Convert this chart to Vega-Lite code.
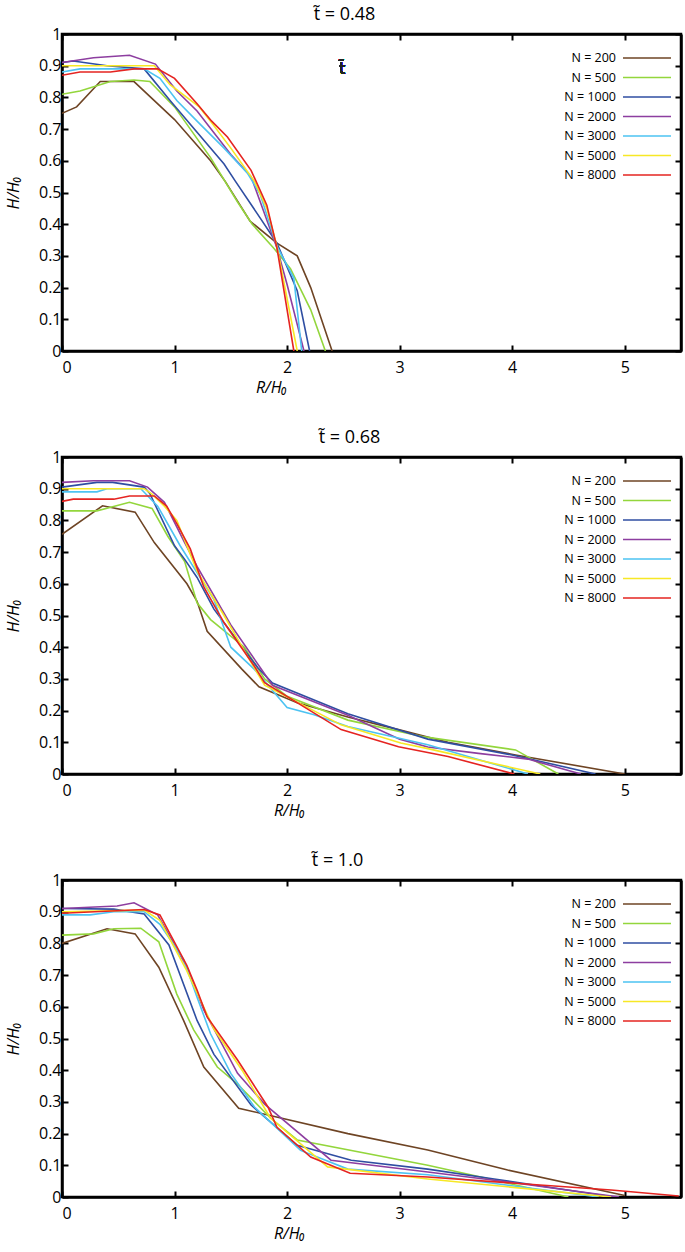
{
  "$schema": "https://vega.github.io/schema/vega-lite/v6.json",
  "padding": {"left": 4, "top": 4, "right": 0, "bottom": 0},
  "background": "white",
  "config": {
    "font": "Open Sans",
    "view": {"stroke": "black", "strokeWidth": 2.5},
    "axis": {
      "grid": false, "domainColor": "black", "domainWidth": 2.5,
      "tickColor": "black", "tickWidth": 2, "tickSize": -6,
      "labelFont": "Open Sans", "labelFontSize": 16, "labelColor": "black",
      "titleFont": "Open Sans", "titleFontSize": 16, "titleFontStyle": "italic", "titleFontWeight": "normal", "titleColor": "black"
    },
    "title": {"font": "Open Sans", "fontSize": 18, "fontWeight": "normal", "color": "black", "offset": 2},
    "legend": {
      "orient": "none", "legendX": 578, "legendY": 17, "title": null, "symbolType": "M-4,0H4", "symbolSize": 144,
      "symbolStrokeWidth": 1.6, "labelAlign": "right", "labelOffset": -38,
      "labelFont": "Open Sans", "labelFontSize": 12.5, "labelColor": "black", "rowPadding": 5.5
    }
  },
  "datasets": {
    "d": [
      {"p":"a","N":"N = 200","r":0,"h":0.75},{"p":"a","N":"N = 200","r":0.13,"h":0.77},{"p":"a","N":"N = 200","r":0.34,"h":0.85},{"p":"a","N":"N = 200","r":0.64,"h":0.85},{"p":"a","N":"N = 200","r":1.0,"h":0.73},{"p":"a","N":"N = 200","r":1.32,"h":0.6},{"p":"a","N":"N = 200","r":1.45,"h":0.535},{"p":"a","N":"N = 200","r":1.67,"h":0.41},{"p":"a","N":"N = 200","r":1.91,"h":0.34},{"p":"a","N":"N = 200","r":2.09,"h":0.3},{"p":"a","N":"N = 200","r":2.21,"h":0.2},{"p":"a","N":"N = 200","r":2.4,"h":0},
      {"p":"a","N":"N = 500","r":0,"h":0.81},{"p":"a","N":"N = 500","r":0.16,"h":0.82},{"p":"a","N":"N = 500","r":0.43,"h":0.85},{"p":"a","N":"N = 500","r":0.64,"h":0.855},{"p":"a","N":"N = 500","r":0.78,"h":0.85},{"p":"a","N":"N = 500","r":1.0,"h":0.77},{"p":"a","N":"N = 500","r":1.32,"h":0.61},{"p":"a","N":"N = 500","r":1.56,"h":0.47},{"p":"a","N":"N = 500","r":1.69,"h":0.4},{"p":"a","N":"N = 500","r":1.88,"h":0.325},{"p":"a","N":"N = 500","r":2.03,"h":0.26},{"p":"a","N":"N = 500","r":2.21,"h":0.13},{"p":"a","N":"N = 500","r":2.34,"h":0},
      {"p":"a","N":"N = 1000","r":0,"h":0.91},{"p":"a","N":"N = 1000","r":0.1,"h":0.915},{"p":"a","N":"N = 1000","r":0.4,"h":0.9},{"p":"a","N":"N = 1000","r":0.73,"h":0.89},{"p":"a","N":"N = 1000","r":0.96,"h":0.79},{"p":"a","N":"N = 1000","r":1.44,"h":0.59},{"p":"a","N":"N = 1000","r":1.54,"h":0.536},{"p":"a","N":"N = 1000","r":1.76,"h":0.42},{"p":"a","N":"N = 1000","r":1.91,"h":0.34},{"p":"a","N":"N = 1000","r":2.09,"h":0.19},{"p":"a","N":"N = 1000","r":2.2,"h":0},
      {"p":"a","N":"N = 2000","r":0,"h":0.91},{"p":"a","N":"N = 2000","r":0.28,"h":0.925},{"p":"a","N":"N = 2000","r":0.6,"h":0.933},{"p":"a","N":"N = 2000","r":0.83,"h":0.905},{"p":"a","N":"N = 2000","r":1.02,"h":0.82},{"p":"a","N":"N = 2000","r":1.2,"h":0.757},{"p":"a","N":"N = 2000","r":1.5,"h":0.62},{"p":"a","N":"N = 2000","r":1.68,"h":0.55},{"p":"a","N":"N = 2000","r":1.91,"h":0.325},{"p":"a","N":"N = 2000","r":2.0,"h":0.21},{"p":"a","N":"N = 2000","r":2.15,"h":0},
      {"p":"a","N":"N = 3000","r":0,"h":0.88},{"p":"a","N":"N = 3000","r":0.16,"h":0.89},{"p":"a","N":"N = 3000","r":0.73,"h":0.89},{"p":"a","N":"N = 3000","r":0.87,"h":0.86},{"p":"a","N":"N = 3000","r":1.02,"h":0.79},{"p":"a","N":"N = 3000","r":1.2,"h":0.725},{"p":"a","N":"N = 3000","r":1.44,"h":0.64},{"p":"a","N":"N = 3000","r":1.65,"h":0.56},{"p":"a","N":"N = 3000","r":1.76,"h":0.495},{"p":"a","N":"N = 3000","r":1.91,"h":0.33},{"p":"a","N":"N = 3000","r":2.06,"h":0.23},{"p":"a","N":"N = 3000","r":2.13,"h":0},
      {"p":"a","N":"N = 5000","r":0,"h":0.9},{"p":"a","N":"N = 5000","r":0.82,"h":0.9},{"p":"a","N":"N = 5000","r":0.96,"h":0.84},{"p":"a","N":"N = 5000","r":1.22,"h":0.77},{"p":"a","N":"N = 5000","r":1.33,"h":0.72},{"p":"a","N":"N = 5000","r":1.5,"h":0.64},{"p":"a","N":"N = 5000","r":1.71,"h":0.535},{"p":"a","N":"N = 5000","r":1.82,"h":0.45},{"p":"a","N":"N = 5000","r":1.91,"h":0.33},{"p":"a","N":"N = 5000","r":2.09,"h":0},
      {"p":"a","N":"N = 8000","r":0,"h":0.87},{"p":"a","N":"N = 8000","r":0.16,"h":0.88},{"p":"a","N":"N = 8000","r":0.43,"h":0.88},{"p":"a","N":"N = 8000","r":0.64,"h":0.89},{"p":"a","N":"N = 8000","r":0.85,"h":0.89},{"p":"a","N":"N = 8000","r":1.0,"h":0.86},{"p":"a","N":"N = 8000","r":1.2,"h":0.78},{"p":"a","N":"N = 8000","r":1.33,"h":0.725},{"p":"a","N":"N = 8000","r":1.47,"h":0.675},{"p":"a","N":"N = 8000","r":1.68,"h":0.57},{"p":"a","N":"N = 8000","r":1.82,"h":0.46},{"p":"a","N":"N = 8000","r":1.91,"h":0.325},{"p":"a","N":"N = 8000","r":2.06,"h":0},

      {"p":"b","N":"N = 200","r":0,"h":0.756},{"p":"b","N":"N = 200","r":0.36,"h":0.846},{"p":"b","N":"N = 200","r":0.65,"h":0.826},{"p":"b","N":"N = 200","r":0.82,"h":0.73},{"p":"b","N":"N = 200","r":1.11,"h":0.6},{"p":"b","N":"N = 200","r":1.2,"h":0.545},{"p":"b","N":"N = 200","r":1.29,"h":0.45},{"p":"b","N":"N = 200","r":1.6,"h":0.33},{"p":"b","N":"N = 200","r":1.75,"h":0.275},{"p":"b","N":"N = 200","r":1.85,"h":0.26},{"p":"b","N":"N = 200","r":2.09,"h":0.225},{"p":"b","N":"N = 200","r":2.54,"h":0.18},{"p":"b","N":"N = 200","r":2.99,"h":0.14},{"p":"b","N":"N = 200","r":3.43,"h":0.1},{"p":"b","N":"N = 200","r":4.03,"h":0.06},{"p":"b","N":"N = 200","r":5.0,"h":0},
      {"p":"b","N":"N = 500","r":0,"h":0.83},{"p":"b","N":"N = 500","r":0.31,"h":0.83},{"p":"b","N":"N = 500","r":0.6,"h":0.857},{"p":"b","N":"N = 500","r":0.8,"h":0.838},{"p":"b","N":"N = 500","r":0.94,"h":0.75},{"p":"b","N":"N = 500","r":1.09,"h":0.67},{"p":"b","N":"N = 500","r":1.2,"h":0.54},{"p":"b","N":"N = 500","r":1.32,"h":0.487},{"p":"b","N":"N = 500","r":1.62,"h":0.4},{"p":"b","N":"N = 500","r":1.8,"h":0.3},{"p":"b","N":"N = 500","r":2.0,"h":0.245},{"p":"b","N":"N = 500","r":2.54,"h":0.17},{"p":"b","N":"N = 500","r":3.22,"h":0.117},{"p":"b","N":"N = 500","r":4.03,"h":0.076},{"p":"b","N":"N = 500","r":4.14,"h":0.054},{"p":"b","N":"N = 500","r":4.41,"h":0},
      {"p":"b","N":"N = 1000","r":0,"h":0.905},{"p":"b","N":"N = 1000","r":0.31,"h":0.92},{"p":"b","N":"N = 1000","r":0.45,"h":0.92},{"p":"b","N":"N = 1000","r":0.73,"h":0.905},{"p":"b","N":"N = 1000","r":0.78,"h":0.885},{"p":"b","N":"N = 1000","r":1.0,"h":0.72},{"p":"b","N":"N = 1000","r":1.09,"h":0.677},{"p":"b","N":"N = 1000","r":1.2,"h":0.62},{"p":"b","N":"N = 1000","r":1.35,"h":0.52},{"p":"b","N":"N = 1000","r":1.74,"h":0.335},{"p":"b","N":"N = 1000","r":1.87,"h":0.287},{"p":"b","N":"N = 1000","r":2.54,"h":0.19},{"p":"b","N":"N = 1000","r":3.25,"h":0.11},{"p":"b","N":"N = 1000","r":4.0,"h":0.06},{"p":"b","N":"N = 1000","r":4.74,"h":0},
      {"p":"b","N":"N = 2000","r":0,"h":0.92},{"p":"b","N":"N = 2000","r":0.28,"h":0.925},{"p":"b","N":"N = 2000","r":0.6,"h":0.925},{"p":"b","N":"N = 2000","r":0.76,"h":0.905},{"p":"b","N":"N = 2000","r":0.91,"h":0.857},{"p":"b","N":"N = 2000","r":1.09,"h":0.73},{"p":"b","N":"N = 2000","r":1.2,"h":0.655},{"p":"b","N":"N = 2000","r":1.5,"h":0.47},{"p":"b","N":"N = 2000","r":1.87,"h":0.28},{"p":"b","N":"N = 2000","r":2.54,"h":0.185},{"p":"b","N":"N = 2000","r":3.0,"h":0.11},{"p":"b","N":"N = 2000","r":3.25,"h":0.085},{"p":"b","N":"N = 2000","r":3.7,"h":0.065},{"p":"b","N":"N = 2000","r":4.14,"h":0.047},{"p":"b","N":"N = 2000","r":4.61,"h":0},
      {"p":"b","N":"N = 3000","r":0,"h":0.89},{"p":"b","N":"N = 3000","r":0.31,"h":0.89},{"p":"b","N":"N = 3000","r":0.4,"h":0.9},{"p":"b","N":"N = 3000","r":0.7,"h":0.9},{"p":"b","N":"N = 3000","r":0.85,"h":0.845},{"p":"b","N":"N = 3000","r":1.05,"h":0.72},{"p":"b","N":"N = 3000","r":1.35,"h":0.55},{"p":"b","N":"N = 3000","r":1.5,"h":0.4},{"p":"b","N":"N = 3000","r":1.71,"h":0.33},{"p":"b","N":"N = 3000","r":2.0,"h":0.21},{"p":"b","N":"N = 3000","r":2.24,"h":0.187},{"p":"b","N":"N = 3000","r":2.54,"h":0.15},{"p":"b","N":"N = 3000","r":3.25,"h":0.092},{"p":"b","N":"N = 3000","r":4.14,"h":0},
      {"p":"b","N":"N = 5000","r":0,"h":0.9},{"p":"b","N":"N = 5000","r":0.73,"h":0.9},{"p":"b","N":"N = 5000","r":0.8,"h":0.883},{"p":"b","N":"N = 5000","r":0.91,"h":0.845},{"p":"b","N":"N = 5000","r":1.02,"h":0.8},{"p":"b","N":"N = 5000","r":1.2,"h":0.64},{"p":"b","N":"N = 5000","r":1.44,"h":0.5},{"p":"b","N":"N = 5000","r":1.65,"h":0.37},{"p":"b","N":"N = 5000","r":1.8,"h":0.28},{"p":"b","N":"N = 5000","r":2.48,"h":0.155},{"p":"b","N":"N = 5000","r":3.01,"h":0.098},{"p":"b","N":"N = 5000","r":3.25,"h":0.08},{"p":"b","N":"N = 5000","r":4.25,"h":0},
      {"p":"b","N":"N = 8000","r":0,"h":0.86},{"p":"b","N":"N = 8000","r":0.1,"h":0.867},{"p":"b","N":"N = 8000","r":0.46,"h":0.867},{"p":"b","N":"N = 8000","r":0.6,"h":0.877},{"p":"b","N":"N = 8000","r":0.82,"h":0.877},{"p":"b","N":"N = 8000","r":0.93,"h":0.845},{"p":"b","N":"N = 8000","r":1.02,"h":0.79},{"p":"b","N":"N = 8000","r":1.14,"h":0.71},{"p":"b","N":"N = 8000","r":1.26,"h":0.59},{"p":"b","N":"N = 8000","r":1.44,"h":0.477},{"p":"b","N":"N = 8000","r":1.71,"h":0.34},{"p":"b","N":"N = 8000","r":1.8,"h":0.288},{"p":"b","N":"N = 8000","r":2.48,"h":0.14},{"p":"b","N":"N = 8000","r":2.99,"h":0.086},{"p":"b","N":"N = 8000","r":3.43,"h":0.055},{"p":"b","N":"N = 8000","r":4.02,"h":0},

      {"p":"c","N":"N = 200","r":0,"h":0.8},{"p":"c","N":"N = 200","r":0.4,"h":0.846},{"p":"c","N":"N = 200","r":0.65,"h":0.83},{"p":"c","N":"N = 200","r":0.86,"h":0.725},{"p":"c","N":"N = 200","r":1.08,"h":0.557},{"p":"c","N":"N = 200","r":1.26,"h":0.41},{"p":"c","N":"N = 200","r":1.57,"h":0.28},{"p":"c","N":"N = 200","r":2.54,"h":0.2},{"p":"c","N":"N = 200","r":3.25,"h":0.148},{"p":"c","N":"N = 200","r":3.96,"h":0.085},{"p":"c","N":"N = 200","r":5.0,"h":0.005},
      {"p":"c","N":"N = 500","r":0,"h":0.826},{"p":"c","N":"N = 500","r":0.28,"h":0.83},{"p":"c","N":"N = 500","r":0.46,"h":0.846},{"p":"c","N":"N = 500","r":0.7,"h":0.848},{"p":"c","N":"N = 500","r":0.86,"h":0.805},{"p":"c","N":"N = 500","r":1.02,"h":0.64},{"p":"c","N":"N = 500","r":1.17,"h":0.527},{"p":"c","N":"N = 500","r":1.38,"h":0.41},{"p":"c","N":"N = 500","r":1.56,"h":0.356},{"p":"c","N":"N = 500","r":1.85,"h":0.25},{"p":"c","N":"N = 500","r":2.09,"h":0.18},{"p":"c","N":"N = 500","r":3.25,"h":0.1},{"p":"c","N":"N = 500","r":3.72,"h":0.063},{"p":"c","N":"N = 500","r":4.5,"h":0},
      {"p":"c","N":"N = 1000","r":0,"h":0.91},{"p":"c","N":"N = 1000","r":0.46,"h":0.908},{"p":"c","N":"N = 1000","r":0.73,"h":0.893},{"p":"c","N":"N = 1000","r":0.95,"h":0.795},{"p":"c","N":"N = 1000","r":1.2,"h":0.557},{"p":"c","N":"N = 1000","r":1.35,"h":0.45},{"p":"c","N":"N = 1000","r":1.68,"h":0.29},{"p":"c","N":"N = 1000","r":2.09,"h":0.163},{"p":"c","N":"N = 1000","r":2.57,"h":0.116},{"p":"c","N":"N = 1000","r":3.25,"h":0.088},{"p":"c","N":"N = 1000","r":3.84,"h":0.057},{"p":"c","N":"N = 1000","r":4.9,"h":0},
      {"p":"c","N":"N = 2000","r":0,"h":0.91},{"p":"c","N":"N = 2000","r":0.49,"h":0.918},{"p":"c","N":"N = 2000","r":0.64,"h":0.928},{"p":"c","N":"N = 2000","r":0.85,"h":0.89},{"p":"c","N":"N = 2000","r":1.11,"h":0.725},{"p":"c","N":"N = 2000","r":1.26,"h":0.59},{"p":"c","N":"N = 2000","r":1.56,"h":0.39},{"p":"c","N":"N = 2000","r":1.8,"h":0.293},{"p":"c","N":"N = 2000","r":2.39,"h":0.116},{"p":"c","N":"N = 2000","r":3.25,"h":0.079},{"p":"c","N":"N = 2000","r":3.84,"h":0.053},{"p":"c","N":"N = 2000","r":4.95,"h":0},
      {"p":"c","N":"N = 3000","r":0,"h":0.89},{"p":"c","N":"N = 3000","r":0.25,"h":0.89},{"p":"c","N":"N = 3000","r":0.46,"h":0.9},{"p":"c","N":"N = 3000","r":0.73,"h":0.9},{"p":"c","N":"N = 3000","r":0.87,"h":0.86},{"p":"c","N":"N = 3000","r":1.08,"h":0.75},{"p":"c","N":"N = 3000","r":1.2,"h":0.63},{"p":"c","N":"N = 3000","r":1.32,"h":0.515},{"p":"c","N":"N = 3000","r":1.5,"h":0.39},{"p":"c","N":"N = 3000","r":1.71,"h":0.284},{"p":"c","N":"N = 3000","r":2.12,"h":0.147},{"p":"c","N":"N = 3000","r":2.54,"h":0.088},{"p":"c","N":"N = 3000","r":3.25,"h":0.07},{"p":"c","N":"N = 3000","r":4.77,"h":0},
      {"p":"c","N":"N = 5000","r":0,"h":0.9},{"p":"c","N":"N = 5000","r":0.73,"h":0.905},{"p":"c","N":"N = 5000","r":0.87,"h":0.873},{"p":"c","N":"N = 5000","r":1.1,"h":0.72},{"p":"c","N":"N = 5000","r":1.35,"h":0.53},{"p":"c","N":"N = 5000","r":1.6,"h":0.4},{"p":"c","N":"N = 5000","r":1.85,"h":0.25},{"p":"c","N":"N = 5000","r":2.36,"h":0.095},{"p":"c","N":"N = 5000","r":3.25,"h":0.057},{"p":"c","N":"N = 5000","r":4.88,"h":0},
      {"p":"c","N":"N = 8000","r":0,"h":0.895},{"p":"c","N":"N = 8000","r":0.73,"h":0.907},{"p":"c","N":"N = 8000","r":0.87,"h":0.89},{"p":"c","N":"N = 8000","r":1.11,"h":0.73},{"p":"c","N":"N = 8000","r":1.2,"h":0.653},{"p":"c","N":"N = 8000","r":1.29,"h":0.568},{"p":"c","N":"N = 8000","r":1.56,"h":0.432},{"p":"c","N":"N = 8000","r":1.83,"h":0.284},{"p":"c","N":"N = 8000","r":1.91,"h":0.22},{"p":"c","N":"N = 8000","r":2.21,"h":0.126},{"p":"c","N":"N = 8000","r":2.56,"h":0.075},{"p":"c","N":"N = 8000","r":3.25,"h":0.063},{"p":"c","N":"N = 8000","r":4.88,"h":0.022},{"p":"c","N":"N = 8000","r":5.48,"h":0.003}
    ]
  },
  "data": {"name": "d"},
  "spacing": 30,
  "resolve": {"legend": {"color": "independent"}},
  "vconcat": [
    {
      "title": {"text": "t̃ = 0.48", "dx": -27},
      "width": 619, "height": 317,
      "transform": [{"filter": "datum.p == 'a'"}],
      "layer": [
        {
          "mark": {"type": "line", "strokeWidth": 1.6, "clip": true},
          "encoding": {
            "x": {"field": "r", "type": "quantitative", "scale": {"domain": [0, 5.5], "nice": false}, "axis": {"title": "R/H₀", "titleX": 209, "values": [0, 1, 2, 3, 4, 5], "labelPadding": 14, "titlePadding": 4}},
            "y": {"field": "h", "type": "quantitative", "scale": {"domain": [0, 1], "nice": false}, "axis": {"title": "H/H₀", "values": [0, 0.1, 0.2, 0.3, 0.4, 0.5, 0.6, 0.7, 0.8, 0.9, 1], "format": ".1~f", "labelPadding": 7, "titlePadding": 17}},
            "color": {"field": "N", "type": "nominal", "sort": null,
              "scale": {"domain": ["N = 200", "N = 500", "N = 1000", "N = 2000", "N = 3000", "N = 5000", "N = 8000"], "range": ["#6e4424", "#93d63c", "#2f4ea2", "#8d3ea0", "#4dc3f2", "#f7e825", "#e52421"]}}
          }
        },
        {
          "mark": {"type": "line", "opacity": 0},
          "encoding": {
            "x": {"field": "r", "type": "quantitative", "axis": {"orient": "top", "labels": false, "title": null, "values": [0, 1, 2, 3, 4, 5]}},
            "y": {"field": "h", "type": "quantitative", "axis": {"orient": "right", "labels": false, "title": null, "values": [0, 0.1, 0.2, 0.3, 0.4, 0.5, 0.6, 0.7, 0.8, 0.9, 1]}}
          }
        },
        {
          "mark": {"type": "text", "text": "t̃", "font": "DejaVu Sans", "fontSize": 15, "color": "#222"},
          "encoding": {"x": {"datum": 2.49, "type": "quantitative", "axis": null}, "y": {"datum": 0.89, "type": "quantitative", "axis": null}}
        }
      ],
      "resolve": {"axis": {"x": "independent", "y": "independent"}}
    },
    {
      "title": {"text": "t̃ = 0.68", "dx": -22},
      "width": 619, "height": 317,
      "transform": [{"filter": "datum.p == 'b'"}],
      "layer": [
        {
          "mark": {"type": "line", "strokeWidth": 1.6, "clip": true},
          "encoding": {
            "x": {"field": "r", "type": "quantitative", "scale": {"domain": [0, 5.5], "nice": false}, "axis": {"title": "R/H₀", "titleX": 227, "values": [0, 1, 2, 3, 4, 5], "labelPadding": 14, "titlePadding": 4}},
            "y": {"field": "h", "type": "quantitative", "scale": {"domain": [0, 1], "nice": false}, "axis": {"title": "H/H₀", "values": [0, 0.1, 0.2, 0.3, 0.4, 0.5, 0.6, 0.7, 0.8, 0.9, 1], "format": ".1~f", "labelPadding": 7, "titlePadding": 17}},
            "color": {"field": "N", "type": "nominal", "sort": null,
              "scale": {"domain": ["N = 200", "N = 500", "N = 1000", "N = 2000", "N = 3000", "N = 5000", "N = 8000"], "range": ["#6e4424", "#93d63c", "#2f4ea2", "#8d3ea0", "#4dc3f2", "#f7e825", "#e52421"]}}
          }
        },
        {
          "mark": {"type": "line", "opacity": 0},
          "encoding": {
            "x": {"field": "r", "type": "quantitative", "axis": {"orient": "top", "labels": false, "title": null, "values": [0, 1, 2, 3, 4, 5]}},
            "y": {"field": "h", "type": "quantitative", "axis": {"orient": "right", "labels": false, "title": null, "values": [0, 0.1, 0.2, 0.3, 0.4, 0.5, 0.6, 0.7, 0.8, 0.9, 1]}}
          }
        }
      ],
      "resolve": {"axis": {"x": "independent", "y": "independent"}}
    },
    {
      "title": {"text": "t̃ = 1.0", "dx": -34},
      "width": 619, "height": 317,
      "transform": [{"filter": "datum.p == 'c'"}],
      "layer": [
        {
          "mark": {"type": "line", "strokeWidth": 1.6, "clip": true},
          "encoding": {
            "x": {"field": "r", "type": "quantitative", "scale": {"domain": [0, 5.5], "nice": false}, "axis": {"title": "R/H₀", "titleX": 227, "values": [0, 1, 2, 3, 4, 5], "labelPadding": 14, "titlePadding": 4}},
            "y": {"field": "h", "type": "quantitative", "scale": {"domain": [0, 1], "nice": false}, "axis": {"title": "H/H₀", "values": [0, 0.1, 0.2, 0.3, 0.4, 0.5, 0.6, 0.7, 0.8, 0.9, 1], "format": ".1~f", "labelPadding": 7, "titlePadding": 17}},
            "color": {"field": "N", "type": "nominal", "sort": null,
              "scale": {"domain": ["N = 200", "N = 500", "N = 1000", "N = 2000", "N = 3000", "N = 5000", "N = 8000"], "range": ["#6e4424", "#93d63c", "#2f4ea2", "#8d3ea0", "#4dc3f2", "#f7e825", "#e52421"]}}
          }
        },
        {
          "mark": {"type": "line", "opacity": 0},
          "encoding": {
            "x": {"field": "r", "type": "quantitative", "axis": {"orient": "top", "labels": false, "title": null, "values": [0, 1, 2, 3, 4, 5]}},
            "y": {"field": "h", "type": "quantitative", "axis": {"orient": "right", "labels": false, "title": null, "values": [0, 0.1, 0.2, 0.3, 0.4, 0.5, 0.6, 0.7, 0.8, 0.9, 1]}}
          }
        }
      ],
      "resolve": {"axis": {"x": "independent", "y": "independent"}}
    }
  ]
}
